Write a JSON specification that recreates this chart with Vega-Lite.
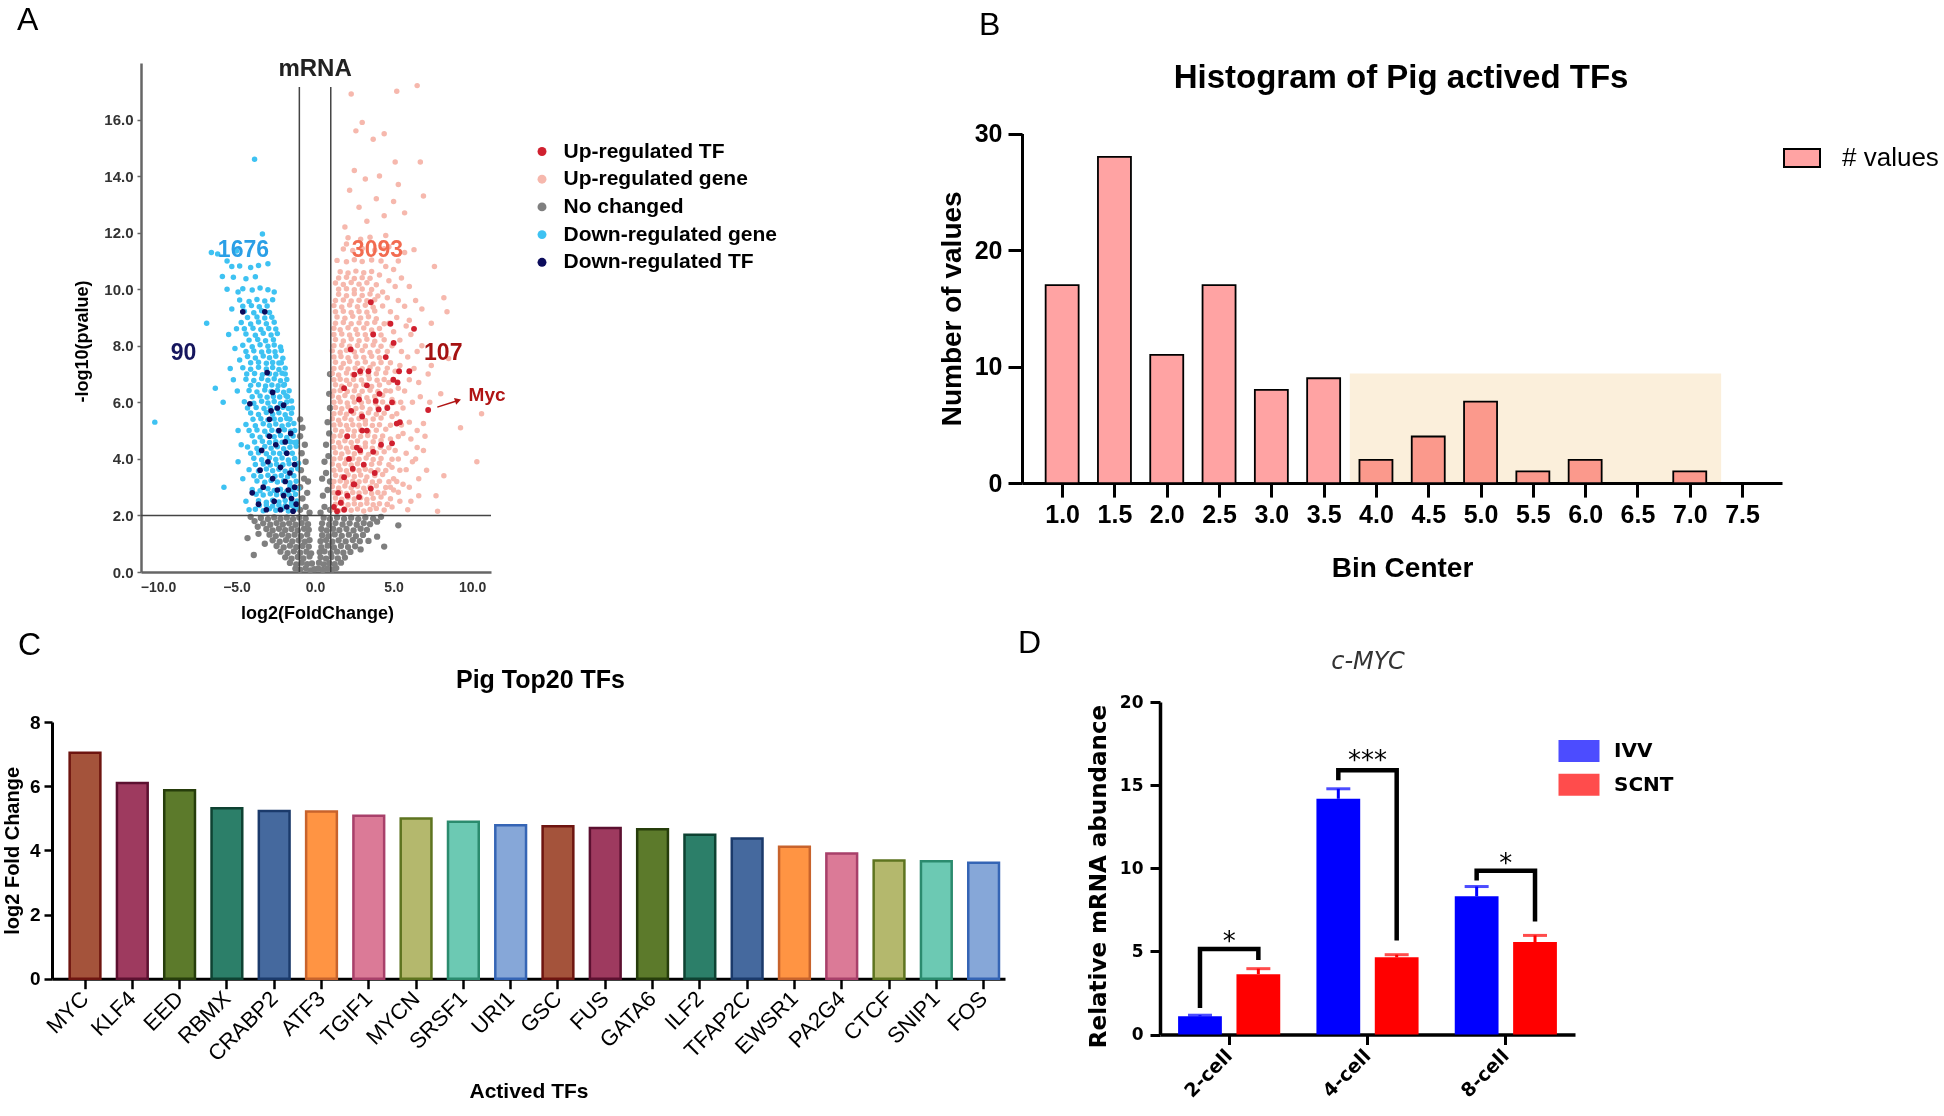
{
"$schema": "https://vega.github.io/schema/vega-lite/v6.json",
"background": "white",
"padding": {"left": 2, "top": 4, "right": 0, "bottom": 0},
"spacing": 5,
"resolve": {"scale": {"color": "independent", "fill": "independent", "stroke": "independent"}, "legend": {"color": "independent", "fill": "independent", "stroke": "independent"}},
"config": {
  "view": {"stroke": null},
  "font": "Liberation Sans",
  "axis": {"grid": false, "labelFont": "Liberation Sans", "titleFont": "Liberation Sans", "labelColor": "black", "titleColor": "black", "domainColor": "black", "tickColor": "black", "labelOverlap": false, "labelFlush": false},
  "legend": {"labelFont": "Liberation Sans", "labelColor": "black"},
  "title": {"anchor": "start", "frame": "group", "fontSize": 32, "fontWeight": "normal", "font": "Liberation Sans", "color": "black"}
},
"datasets": {
  "gr": [{"x":-1.25,"y":0.12},{"x":-0.95,"y":0.08},{"x":-0.6,"y":0.14},{"x":-0.3,"y":0.06},{"x":-0.05,"y":0.1},{"x":0.2,"y":0.13},{"x":0.5,"y":0.07},{"x":0.8,"y":0.12},{"x":1.1,"y":0.09},{"x":1.35,"y":0.14},
{"x":-1.6,"y":0.32},{"x":-1.2,"y":0.27},{"x":-0.85,"y":0.33},{"x":-0.5,"y":0.28},{"x":-0.2,"y":0.3},{"x":0.25,"y":0.33},{"x":0.55,"y":0.27},{"x":0.9,"y":0.31},{"x":1.25,"y":0.28},{"x":1.65,"y":0.33},
{"x":-1.9,"y":0.52},{"x":-1.5,"y":0.47},{"x":-1.1,"y":0.53},{"x":-0.75,"y":0.48},{"x":-0.35,"y":0.55},{"x":0.35,"y":0.52},{"x":0.7,"y":0.47},{"x":1.05,"y":0.53},{"x":1.45,"y":0.48},{"x":1.9,"y":0.51},
{"x":-2.2,"y":0.72},{"x":-1.75,"y":0.67},{"x":-1.35,"y":0.73},{"x":-0.95,"y":0.68},{"x":-0.55,"y":0.72},{"x":-0.25,"y":0.66},{"x":0.3,"y":0.7},{"x":0.6,"y":0.73},{"x":1.0,"y":0.67},{"x":1.4,"y":0.72},{"x":1.8,"y":0.68},{"x":2.25,"y":0.71},
{"x":-2.45,"y":0.92},{"x":-2.0,"y":0.87},{"x":-1.6,"y":0.93},{"x":-1.2,"y":0.88},{"x":-0.8,"y":0.92},{"x":-0.4,"y":0.9},{"x":0.4,"y":0.88},{"x":0.8,"y":0.93},{"x":1.2,"y":0.87},{"x":1.65,"y":0.92},{"x":2.1,"y":0.88},{"x":2.55,"y":0.91},
{"x":-2.7,"y":1.12},{"x":-2.25,"y":1.07},{"x":-1.85,"y":1.13},{"x":-1.45,"y":1.08},{"x":-1.05,"y":1.12},{"x":-0.65,"y":1.07},{"x":-0.35,"y":1.13},{"x":0.35,"y":1.09},{"x":0.7,"y":1.13},{"x":1.1,"y":1.07},{"x":1.5,"y":1.12},{"x":1.95,"y":1.08},{"x":2.4,"y":1.13},{"x":2.85,"y":1.09},
{"x":-2.9,"y":1.32},{"x":-2.5,"y":1.27},{"x":-2.1,"y":1.33},{"x":-1.7,"y":1.28},{"x":-1.3,"y":1.32},{"x":-0.9,"y":1.27},{"x":-0.5,"y":1.33},{"x":0.45,"y":1.3},{"x":0.85,"y":1.27},{"x":1.25,"y":1.33},{"x":1.7,"y":1.28},{"x":2.15,"y":1.32},{"x":2.6,"y":1.27},{"x":3.05,"y":1.31},
{"x":-3.1,"y":1.52},{"x":-2.7,"y":1.47},{"x":-2.3,"y":1.53},{"x":-1.9,"y":1.48},{"x":-1.5,"y":1.52},{"x":-1.1,"y":1.47},{"x":-0.7,"y":1.53},{"x":-0.4,"y":1.49},{"x":0.4,"y":1.52},{"x":0.75,"y":1.47},{"x":1.15,"y":1.53},{"x":1.55,"y":1.48},{"x":2.0,"y":1.52},{"x":2.45,"y":1.47},{"x":2.9,"y":1.53},{"x":3.3,"y":1.49},
{"x":-3.3,"y":1.72},{"x":-2.85,"y":1.67},{"x":-2.45,"y":1.73},{"x":-2.05,"y":1.68},{"x":-1.65,"y":1.72},{"x":-1.25,"y":1.67},{"x":-0.85,"y":1.73},{"x":-0.45,"y":1.69},{"x":0.45,"y":1.72},{"x":0.9,"y":1.67},{"x":1.3,"y":1.73},{"x":1.75,"y":1.68},{"x":2.2,"y":1.72},{"x":2.65,"y":1.67},{"x":3.1,"y":1.73},{"x":3.5,"y":1.69},
{"x":-3.45,"y":1.91},{"x":-3.0,"y":1.87},{"x":-2.6,"y":1.93},{"x":-2.2,"y":1.88},{"x":-1.8,"y":1.92},{"x":-1.4,"y":1.87},{"x":-1.0,"y":1.93},{"x":-0.6,"y":1.89},{"x":0.55,"y":1.92},{"x":0.95,"y":1.87},{"x":1.4,"y":1.93},{"x":1.85,"y":1.88},{"x":2.3,"y":1.92},{"x":2.75,"y":1.87},{"x":3.2,"y":1.93},{"x":3.7,"y":1.89},
{"x":-3.85,"y":1.8},{"x":-4.1,"y":1.95},{"x":3.95,"y":1.78},{"x":4.2,"y":1.95},{"x":-3.6,"y":1.35},{"x":3.4,"y":1.1},{"x":-3.2,"y":1.0},{"x":2.9,"y":0.8},
{"x":-0.95,"y":2.2},{"x":-0.6,"y":2.3},{"x":-0.35,"y":2.1},{"x":-0.8,"y":2.6},{"x":-0.5,"y":2.8},{"x":-0.95,"y":3.0},{"x":-0.7,"y":3.3},{"x":-0.45,"y":3.2},{"x":-0.9,"y":3.6},{"x":-0.6,"y":3.9},{"x":-0.85,"y":4.2},{"x":-0.65,"y":4.5},{"x":-0.95,"y":4.8},{"x":-0.8,"y":5.1},{"x":-0.95,"y":5.4},
{"x":0.35,"y":2.1},{"x":0.6,"y":2.3},{"x":0.95,"y":2.2},{"x":0.5,"y":2.7},{"x":0.8,"y":2.9},{"x":0.45,"y":3.3},{"x":0.7,"y":3.5},{"x":0.95,"y":3.2},{"x":0.6,"y":3.9},{"x":0.85,"y":4.1},{"x":0.7,"y":4.5},{"x":0.9,"y":4.9},{"x":0.8,"y":5.3},{"x":0.95,"y":5.8},{"x":0.9,"y":6.3},{"x":0.95,"y":7.0},
{"x":-3.65,"y":1.6},{"x":-4.3,"y":1.2},{"x":-3.9,"y":0.6},{"x":5.3,"y":1.65},{"x":4.4,"y":0.9},{"x":3.95,"y":1.25}],
  "bl": [{"x":-3.8,"y":2.22},{"x":-3.3,"y":2.17},{"x":-2.9,"y":2.24},{"x":-2.5,"y":2.18},{"x":-2.1,"y":2.23},{"x":-1.7,"y":2.16},{"x":-1.3,"y":2.21},
{"x":-3.6,"y":2.52},{"x":-3.1,"y":2.47},{"x":-2.7,"y":2.54},{"x":-2.3,"y":2.48},{"x":-1.9,"y":2.53},{"x":-1.5,"y":2.46},{"x":-1.15,"y":2.51},
{"x":-4.0,"y":2.92},{"x":-3.5,"y":2.87},{"x":-3.0,"y":2.94},{"x":-2.6,"y":2.88},{"x":-2.2,"y":2.93},{"x":-1.8,"y":2.86},{"x":-1.4,"y":2.91},{"x":-1.05,"y":2.95},
{"x":-3.7,"y":3.22},{"x":-3.2,"y":3.17},{"x":-2.8,"y":3.24},{"x":-2.4,"y":3.18},{"x":-2.0,"y":3.23},{"x":-1.6,"y":3.16},{"x":-1.2,"y":3.21},
{"x":-4.2,"y":3.62},{"x":-3.6,"y":3.57},{"x":-3.1,"y":3.64},{"x":-2.7,"y":3.58},{"x":-2.3,"y":3.63},{"x":-1.9,"y":3.56},{"x":-1.5,"y":3.61},{"x":-1.1,"y":3.65},
{"x":-3.9,"y":4.02},{"x":-3.4,"y":3.97},{"x":-2.9,"y":4.04},{"x":-2.5,"y":3.98},{"x":-2.1,"y":4.03},{"x":-1.7,"y":3.96},{"x":-1.3,"y":4.01},
{"x":-4.3,"y":4.42},{"x":-3.7,"y":4.37},{"x":-3.2,"y":4.44},{"x":-2.8,"y":4.38},{"x":-2.4,"y":4.43},{"x":-2.0,"y":4.36},{"x":-1.6,"y":4.41},{"x":-1.2,"y":4.45},
{"x":-4.0,"y":4.82},{"x":-3.5,"y":4.77},{"x":-3.0,"y":4.84},{"x":-2.6,"y":4.78},{"x":-2.2,"y":4.83},{"x":-1.8,"y":4.76},{"x":-1.4,"y":4.81},
{"x":-4.4,"y":5.22},{"x":-3.8,"y":5.17},{"x":-3.3,"y":5.24},{"x":-2.9,"y":5.18},{"x":-2.5,"y":5.23},{"x":-2.1,"y":5.16},{"x":-1.7,"y":5.21},{"x":-1.35,"y":5.25},
{"x":-4.1,"y":5.62},{"x":-3.6,"y":5.57},{"x":-3.1,"y":5.64},{"x":-2.7,"y":5.58},{"x":-2.3,"y":5.63},{"x":-1.9,"y":5.56},{"x":-1.5,"y":5.61},
{"x":-4.5,"y":6.02},{"x":-3.9,"y":5.97},{"x":-3.4,"y":6.04},{"x":-3.0,"y":5.98},{"x":-2.6,"y":6.03},{"x":-2.2,"y":5.96},{"x":-1.8,"y":6.01},{"x":-1.5,"y":6.05},
{"x":-4.2,"y":6.42},{"x":-3.7,"y":6.37},{"x":-3.2,"y":6.44},{"x":-2.8,"y":6.38},{"x":-2.4,"y":6.43},{"x":-2.0,"y":6.36},{"x":-1.65,"y":6.41},
{"x":-4.4,"y":6.82},{"x":-3.9,"y":6.77},{"x":-3.4,"y":6.84},{"x":-3.0,"y":6.78},{"x":-2.6,"y":6.83},{"x":-2.2,"y":6.76},{"x":-1.8,"y":6.81},
{"x":-4.6,"y":7.22},{"x":-4.1,"y":7.17},{"x":-3.6,"y":7.24},{"x":-3.1,"y":7.18},{"x":-2.7,"y":7.23},{"x":-2.3,"y":7.16},{"x":-1.9,"y":7.21},
{"x":-4.3,"y":7.62},{"x":-3.8,"y":7.57},{"x":-3.3,"y":7.64},{"x":-2.9,"y":7.58},{"x":-2.5,"y":7.63},{"x":-2.05,"y":7.56},
{"x":-4.6,"y":8.02},{"x":-4.0,"y":7.97},{"x":-3.5,"y":8.04},{"x":-3.0,"y":7.98},{"x":-2.6,"y":8.03},{"x":-2.2,"y":7.96},
{"x":-4.4,"y":8.42},{"x":-3.8,"y":8.37},{"x":-3.3,"y":8.44},{"x":-2.8,"y":8.38},{"x":-2.4,"y":8.43},
{"x":-4.7,"y":8.82},{"x":-4.1,"y":8.77},{"x":-3.6,"y":8.84},{"x":-3.1,"y":8.78},{"x":-2.6,"y":8.83},
{"x":-4.5,"y":9.22},{"x":-3.9,"y":9.17},{"x":-3.4,"y":9.24},{"x":-2.9,"y":9.18},
{"x":-4.8,"y":9.62},{"x":-4.2,"y":9.57},{"x":-3.7,"y":9.64},{"x":-3.2,"y":9.58},{"x":-2.7,"y":9.63},
{"x":-4.6,"y":10.02},{"x":-4.0,"y":9.97},{"x":-3.5,"y":10.04},{"x":-3.0,"y":9.98},
{"x":-5.2,"y":10.42},{"x":-4.4,"y":10.37},{"x":-3.8,"y":10.44},
{"x":-4.8,"y":10.82},{"x":-4.1,"y":10.77},{"x":-3.6,"y":10.84},
{"x":-6.6,"y":11.3},{"x":-6.2,"y":11.25},{"x":-5.0,"y":11.35},
{"x":-10.2,"y":5.3},{"x":-6.9,"y":8.8},{"x":-6.35,"y":6.5},{"x":-5.8,"y":3.0},{"x":-5.85,"y":6.0},{"x":-5.9,"y":10.45},{"x":-3.85,"y":14.6},{"x":-3.35,"y":11.95},{"x":-5.6,"y":10.0},{"x":-5.3,"y":9.3},{"x":-5.1,"y":7.9},{"x":-4.9,"y":5.0},{"x":-4.9,"y":3.9},{"x":-5.5,"y":8.4},{"x":-3.0,"y":10.9},{"x":-2.6,"y":9.9},{"x":-5.2,"y":6.8},
{"x":-5.0,"y":8.6},{"x":-4.9,"y":9.9},{"x":-5.3,"y":10.8},{"x":-5.6,"y":11.0},{"x":-4.95,"y":6.4},{"x":-4.8,"y":7.5},{"x":-5.4,"y":7.2},{"x":-4.7,"y":4.5},{"x":-4.6,"y":3.3},{"x":-4.4,"y":2.5},{"x":-4.2,"y":2.2},
{"x":-1.1,"y":2.3},{"x":-1.45,"y":2.35},{"x":-1.25,"y":2.75},{"x":-1.6,"y":3.05},{"x":-1.35,"y":3.4},{"x":-1.05,"y":3.85},{"x":-1.45,"y":4.2},{"x":-1.15,"y":4.6},{"x":-1.55,"y":4.6},{"x":-1.3,"y":5.0},{"x":-1.6,"y":5.4},{"x":-1.45,"y":5.8},{"x":-1.75,"y":6.2},{"x":-2.0,"y":6.6},{"x":-1.9,"y":7.0},{"x":-2.15,"y":7.4},
{"x":-3.55,"y":2.35},{"x":-3.1,"y":2.37},{"x":-2.7,"y":2.33},{"x":-2.3,"y":2.36},{"x":-1.9,"y":2.34},{"x":-1.5,"y":2.38},
{"x":-3.75,"y":2.75},{"x":-3.3,"y":2.72},{"x":-2.85,"y":2.77},{"x":-2.45,"y":2.73},{"x":-2.05,"y":2.76},{"x":-1.65,"y":2.72},
{"x":-3.9,"y":3.4},{"x":-3.45,"y":3.38},{"x":-3.0,"y":3.42},{"x":-2.55,"y":3.39},{"x":-2.15,"y":3.41},{"x":-1.75,"y":3.37},
{"x":-3.8,"y":3.8},{"x":-3.3,"y":3.82},{"x":-2.85,"y":3.78},{"x":-2.45,"y":3.81},{"x":-2.05,"y":3.79},{"x":-1.65,"y":3.83},{"x":-1.25,"y":3.78},
{"x":-4.1,"y":4.2},{"x":-3.6,"y":4.22},{"x":-3.1,"y":4.18},{"x":-2.65,"y":4.21},{"x":-2.25,"y":4.19},{"x":-1.85,"y":4.23},
{"x":-3.85,"y":4.6},{"x":-3.35,"y":4.62},{"x":-2.9,"y":4.58},{"x":-2.5,"y":4.61},{"x":-2.1,"y":4.59},{"x":-1.7,"y":4.63},{"x":-1.3,"y":4.58},
{"x":-4.2,"y":5.0},{"x":-3.7,"y":5.02},{"x":-3.2,"y":4.98},{"x":-2.75,"y":5.01},{"x":-2.35,"y":4.99},{"x":-1.95,"y":5.03},{"x":-1.55,"y":4.98},
{"x":-3.95,"y":5.4},{"x":-3.45,"y":5.42},{"x":-3.0,"y":5.38},{"x":-2.6,"y":5.41},{"x":-2.2,"y":5.39},{"x":-1.8,"y":5.43},
{"x":-4.3,"y":5.8},{"x":-3.75,"y":5.82},{"x":-3.25,"y":5.78},{"x":-2.85,"y":5.81},{"x":-2.45,"y":5.79},{"x":-2.05,"y":5.83},{"x":-1.7,"y":5.78},
{"x":-4.0,"y":6.2},{"x":-3.5,"y":6.22},{"x":-3.05,"y":6.18},{"x":-2.65,"y":6.21},{"x":-2.25,"y":6.19},{"x":-1.85,"y":6.23},
{"x":-4.1,"y":6.6},{"x":-3.6,"y":6.62},{"x":-3.15,"y":6.58},{"x":-2.75,"y":6.61},{"x":-2.35,"y":6.59},{"x":-1.95,"y":6.63},
{"x":-4.35,"y":7.0},{"x":-3.85,"y":7.02},{"x":-3.35,"y":6.98},{"x":-2.9,"y":7.01},{"x":-2.5,"y":6.99},{"x":-2.1,"y":7.03},
{"x":-4.1,"y":7.4},{"x":-3.6,"y":7.42},{"x":-3.1,"y":7.38},{"x":-2.7,"y":7.41},{"x":-2.3,"y":7.39},
{"x":-4.4,"y":7.8},{"x":-3.9,"y":7.82},{"x":-3.4,"y":7.78},{"x":-2.95,"y":7.81},{"x":-2.55,"y":7.79},{"x":-2.15,"y":7.83},
{"x":-4.2,"y":8.2},{"x":-3.65,"y":8.22},{"x":-3.15,"y":8.18},{"x":-2.65,"y":8.21},
{"x":-4.5,"y":8.6},{"x":-3.95,"y":8.62},{"x":-3.45,"y":8.58},{"x":-2.95,"y":8.61},{"x":-2.5,"y":8.59},
{"x":-4.3,"y":9.0},{"x":-3.7,"y":9.02},{"x":-3.2,"y":8.98},{"x":-2.75,"y":9.01},
{"x":-4.6,"y":9.4},{"x":-4.05,"y":9.42},{"x":-3.55,"y":9.38},{"x":-3.05,"y":9.41}],
  "pk": [{"x":1.1,"y":2.22},{"x":1.5,"y":2.17},{"x":1.9,"y":2.24},{"x":2.3,"y":2.18},{"x":2.7,"y":2.23},{"x":3.1,"y":2.16},{"x":3.5,"y":2.21},{"x":3.9,"y":2.25},{"x":4.4,"y":2.19},
{"x":1.3,"y":2.62},{"x":1.7,"y":2.57},{"x":2.1,"y":2.64},{"x":2.5,"y":2.58},{"x":2.9,"y":2.63},{"x":3.3,"y":2.56},{"x":3.7,"y":2.61},{"x":4.2,"y":2.65},{"x":4.8,"y":2.59},
{"x":1.1,"y":3.02},{"x":1.5,"y":2.97},{"x":1.9,"y":3.04},{"x":2.3,"y":2.98},{"x":2.7,"y":3.03},{"x":3.1,"y":2.96},{"x":3.5,"y":3.01},{"x":3.9,"y":3.05},{"x":4.5,"y":2.99},
{"x":1.3,"y":3.42},{"x":1.7,"y":3.37},{"x":2.1,"y":3.44},{"x":2.5,"y":3.38},{"x":2.9,"y":3.43},{"x":3.3,"y":3.36},{"x":3.8,"y":3.41},{"x":4.3,"y":3.45},
{"x":1.1,"y":3.82},{"x":1.5,"y":3.77},{"x":1.9,"y":3.84},{"x":2.3,"y":3.78},{"x":2.7,"y":3.83},{"x":3.1,"y":3.76},{"x":3.6,"y":3.81},{"x":4.1,"y":3.85},{"x":4.7,"y":3.79},
{"x":1.3,"y":4.22},{"x":1.7,"y":4.17},{"x":2.1,"y":4.24},{"x":2.5,"y":4.18},{"x":2.9,"y":4.23},{"x":3.4,"y":4.16},{"x":3.9,"y":4.21},{"x":4.4,"y":4.25},
{"x":1.1,"y":4.62},{"x":1.5,"y":4.57},{"x":1.9,"y":4.64},{"x":2.3,"y":4.58},{"x":2.7,"y":4.63},{"x":3.2,"y":4.56},{"x":3.7,"y":4.61},{"x":4.2,"y":4.65},
{"x":1.3,"y":5.02},{"x":1.7,"y":4.97},{"x":2.1,"y":5.04},{"x":2.5,"y":4.98},{"x":2.9,"y":5.03},{"x":3.4,"y":4.96},{"x":3.9,"y":5.01},{"x":4.5,"y":5.05},
{"x":1.1,"y":5.42},{"x":1.5,"y":5.37},{"x":1.9,"y":5.44},{"x":2.3,"y":5.38},{"x":2.8,"y":5.43},{"x":3.2,"y":5.36},{"x":3.7,"y":5.41},{"x":4.2,"y":5.45},
{"x":1.3,"y":5.82},{"x":1.7,"y":5.77},{"x":2.1,"y":5.84},{"x":2.6,"y":5.78},{"x":3.0,"y":5.83},{"x":3.5,"y":5.76},{"x":4.0,"y":5.81},{"x":4.6,"y":5.85},
{"x":1.1,"y":6.22},{"x":1.5,"y":6.17},{"x":1.9,"y":6.24},{"x":2.4,"y":6.18},{"x":2.8,"y":6.23},{"x":3.3,"y":6.16},{"x":3.8,"y":6.21},{"x":4.3,"y":6.25},
{"x":1.3,"y":6.62},{"x":1.7,"y":6.57},{"x":2.2,"y":6.64},{"x":2.6,"y":6.58},{"x":3.1,"y":6.63},{"x":3.6,"y":6.56},{"x":4.1,"y":6.61},
{"x":1.1,"y":7.02},{"x":1.5,"y":6.97},{"x":2.0,"y":7.04},{"x":2.4,"y":6.98},{"x":2.9,"y":7.03},{"x":3.4,"y":6.96},{"x":3.9,"y":7.01},{"x":4.5,"y":7.05},
{"x":1.3,"y":7.42},{"x":1.8,"y":7.37},{"x":2.2,"y":7.44},{"x":2.7,"y":7.38},{"x":3.2,"y":7.43},{"x":3.7,"y":7.36},{"x":4.2,"y":7.41},
{"x":1.1,"y":7.82},{"x":1.6,"y":7.77},{"x":2.0,"y":7.84},{"x":2.5,"y":7.78},{"x":3.0,"y":7.83},{"x":3.5,"y":7.76},{"x":4.0,"y":7.81},
{"x":1.3,"y":8.22},{"x":1.8,"y":8.17},{"x":2.3,"y":8.24},{"x":2.8,"y":8.18},{"x":3.3,"y":8.23},{"x":3.8,"y":8.16},{"x":4.4,"y":8.21},
{"x":1.2,"y":8.62},{"x":1.6,"y":8.57},{"x":2.1,"y":8.64},{"x":2.6,"y":8.58},{"x":3.1,"y":8.63},{"x":3.6,"y":8.56},{"x":4.1,"y":8.61},
{"x":1.4,"y":9.02},{"x":1.9,"y":8.97},{"x":2.4,"y":9.04},{"x":2.9,"y":8.98},{"x":3.4,"y":9.03},{"x":3.9,"y":8.96},
{"x":1.2,"y":9.42},{"x":1.7,"y":9.37},{"x":2.2,"y":9.44},{"x":2.7,"y":9.38},{"x":3.2,"y":9.43},{"x":3.7,"y":9.36},{"x":4.3,"y":9.41},
{"x":1.5,"y":9.82},{"x":2.0,"y":9.77},{"x":2.5,"y":9.84},{"x":3.0,"y":9.78},{"x":3.5,"y":9.83},{"x":4.0,"y":9.76},
{"x":1.3,"y":10.22},{"x":1.8,"y":10.17},{"x":2.3,"y":10.24},{"x":2.8,"y":10.18},{"x":3.3,"y":10.23},{"x":3.9,"y":10.16},
{"x":1.6,"y":10.62},{"x":2.1,"y":10.57},{"x":2.6,"y":10.64},{"x":3.1,"y":10.58},{"x":3.6,"y":10.63},
{"x":1.4,"y":11.02},{"x":2.0,"y":10.97},{"x":2.5,"y":11.04},{"x":3.0,"y":10.98},{"x":3.6,"y":11.03},
{"x":1.8,"y":11.42},{"x":2.4,"y":11.37},{"x":3.0,"y":11.44},{"x":3.8,"y":11.38},{"x":4.4,"y":11.43},
{"x":2.1,"y":11.82},{"x":2.9,"y":11.77},{"x":3.5,"y":11.84},
{"x":6.5,"y":17.2},{"x":5.2,"y":17.0},{"x":2.3,"y":16.9},{"x":3.0,"y":15.9},{"x":2.6,"y":15.6},{"x":4.4,"y":15.5},{"x":3.7,"y":15.3},{"x":6.7,"y":14.5},{"x":5.1,"y":14.5},{"x":2.5,"y":14.2},{"x":4.1,"y":14.0},{"x":5.3,"y":13.7},{"x":2.2,"y":13.5},{"x":6.9,"y":13.3},{"x":5.0,"y":13.1},{"x":5.7,"y":12.7},{"x":3.3,"y":12.4},{"x":1.9,"y":12.2},{"x":4.5,"y":11.9},{"x":6.3,"y":11.4},{"x":7.6,"y":10.8},{"x":8.2,"y":9.7},{"x":8.4,"y":9.2},{"x":7.4,"y":8.8},{"x":8.5,"y":7.55},{"x":8.0,"y":6.3},{"x":9.26,"y":5.1},{"x":10.6,"y":5.6},{"x":10.3,"y":3.9},{"x":8.2,"y":3.4},{"x":7.7,"y":2.7},{"x":7.8,"y":2.15},{"x":6.5,"y":4.4},{"x":6.9,"y":5.25},{"x":7.4,"y":7.3},{"x":6.6,"y":6.7},{"x":5.45,"y":6.0},{"x":5.8,"y":8.7},{"x":5.2,"y":3.2},{"x":6.1,"y":2.5},{"x":4.6,"y":2.4},{"x":6.8,"y":8.0},{"x":6.0,"y":10.1},{"x":5.0,"y":10.7},{"x":5.7,"y":11.3},
{"x":5.0,"y":2.9},{"x":5.4,"y":3.6},{"x":5.1,"y":4.3},{"x":5.6,"y":4.9},{"x":5.2,"y":5.6},{"x":5.7,"y":6.4},{"x":5.1,"y":7.1},{"x":5.5,"y":7.8},{"x":5.0,"y":8.5},{"x":4.8,"y":9.2},{"x":5.3,"y":9.6},{"x":6.2,"y":3.9},{"x":6.0,"y":5.3},{"x":6.3,"y":7.2},{"x":6.1,"y":8.4},{"x":4.7,"y":10.3},{"x":5.9,"y":2.2},{"x":6.6,"y":3.3},{"x":7.0,"y":4.8},{"x":7.3,"y":6.0},{"x":6.8,"y":9.3},{"x":4.4,"y":12.6},{"x":3.9,"y":13.2},{"x":3.2,"y":13.9},{"x":2.8,"y":12.9},{"x":2.0,"y":11.6},
{"x":4.9,"y":2.3},{"x":5.4,"y":2.5},{"x":5.0,"y":3.3},{"x":5.6,"y":3.1},{"x":6.0,"y":3.0},{"x":4.9,"y":3.7},{"x":5.3,"y":4.0},{"x":5.8,"y":4.2},{"x":6.4,"y":4.0},{"x":4.8,"y":4.7},{"x":5.5,"y":5.2},{"x":6.1,"y":4.7},{"x":6.5,"y":5.0},{"x":4.9,"y":5.5},{"x":5.6,"y":5.8},{"x":6.2,"y":6.0},{"x":6.7,"y":6.2},{"x":4.8,"y":6.4},{"x":5.3,"y":6.5},{"x":6.0,"y":6.8},{"x":4.8,"y":7.4},{"x":5.4,"y":7.3},{"x":5.9,"y":7.6},{"x":6.5,"y":7.8},{"x":4.9,"y":8.0},{"x":5.4,"y":8.2},{"x":6.0,"y":8.9},{"x":4.7,"y":8.8},{"x":5.2,"y":9.0},{"x":5.7,"y":9.4},{"x":4.6,"y":9.7},{"x":5.1,"y":10.1},{"x":5.5,"y":10.4},{"x":4.5,"y":10.8},{"x":5.3,"y":11.0},{"x":4.2,"y":11.0},{"x":4.7,"y":11.5},{"x":6.6,"y":2.7},{"x":7.1,"y":3.6},{"x":6.9,"y":4.3},{"x":7.2,"y":7.0},{"x":6.4,"y":9.6},{"x":4.1,"y":10.5},{"x":4.3,"y":9.9},{"x":4.6,"y":7.8},{"x":4.7,"y":6.7},{"x":4.9,"y":6.1},{"x":4.8,"y":3.0},
{"x":1.3,"y":2.4},{"x":1.7,"y":2.42},{"x":2.1,"y":2.38},{"x":2.5,"y":2.41},{"x":2.9,"y":2.39},{"x":3.3,"y":2.43},{"x":3.7,"y":2.38},{"x":4.1,"y":2.41},{"x":4.6,"y":2.39},
{"x":1.2,"y":2.8},{"x":1.6,"y":2.82},{"x":2.0,"y":2.78},{"x":2.4,"y":2.81},{"x":2.8,"y":2.79},{"x":3.2,"y":2.83},{"x":3.6,"y":2.78},{"x":4.0,"y":2.81},{"x":4.4,"y":2.79},{"x":5.3,"y":2.82},
{"x":1.2,"y":3.2},{"x":1.6,"y":3.22},{"x":2.0,"y":3.18},{"x":2.4,"y":3.21},{"x":2.8,"y":3.19},{"x":3.2,"y":3.23},{"x":3.65,"y":3.18},{"x":4.1,"y":3.21},{"x":4.7,"y":3.19},
{"x":1.2,"y":3.6},{"x":1.6,"y":3.62},{"x":2.0,"y":3.58},{"x":2.4,"y":3.61},{"x":2.8,"y":3.59},{"x":3.2,"y":3.63},{"x":3.55,"y":3.58},{"x":4.0,"y":3.61},{"x":4.5,"y":3.59},{"x":5.8,"y":3.62},
{"x":1.2,"y":4.0},{"x":1.6,"y":4.02},{"x":2.0,"y":3.98},{"x":2.4,"y":4.01},{"x":2.8,"y":3.99},{"x":3.25,"y":4.03},{"x":3.7,"y":3.98},{"x":4.2,"y":4.01},{"x":4.9,"y":3.99},
{"x":1.2,"y":4.4},{"x":1.6,"y":4.42},{"x":2.0,"y":4.38},{"x":2.4,"y":4.41},{"x":2.8,"y":4.39},{"x":3.2,"y":4.43},{"x":3.65,"y":4.38},{"x":4.15,"y":4.41},{"x":4.7,"y":4.39},
{"x":1.2,"y":4.8},{"x":1.6,"y":4.82},{"x":2.0,"y":4.78},{"x":2.45,"y":4.81},{"x":2.9,"y":4.79},{"x":3.35,"y":4.83},{"x":3.8,"y":4.78},{"x":4.3,"y":4.81},{"x":5.3,"y":4.79},
{"x":1.2,"y":5.2},{"x":1.6,"y":5.22},{"x":2.0,"y":5.18},{"x":2.4,"y":5.21},{"x":2.8,"y":5.19},{"x":3.2,"y":5.23},{"x":3.65,"y":5.18},{"x":4.1,"y":5.21},{"x":4.8,"y":5.19},
{"x":1.2,"y":5.6},{"x":1.6,"y":5.62},{"x":2.0,"y":5.58},{"x":2.45,"y":5.61},{"x":2.95,"y":5.59},{"x":3.4,"y":5.63},{"x":3.9,"y":5.58},{"x":4.4,"y":5.61},
{"x":1.2,"y":6.0},{"x":1.6,"y":6.02},{"x":2.05,"y":5.98},{"x":2.5,"y":6.01},{"x":2.95,"y":5.99},{"x":3.4,"y":6.03},{"x":3.85,"y":5.98},{"x":4.3,"y":6.01},{"x":5.0,"y":5.99},
{"x":1.2,"y":6.4},{"x":1.6,"y":6.42},{"x":2.05,"y":6.38},{"x":2.5,"y":6.41},{"x":3.0,"y":6.39},{"x":3.5,"y":6.43},{"x":4.0,"y":6.38},{"x":4.5,"y":6.41},
{"x":1.2,"y":6.8},{"x":1.6,"y":6.82},{"x":2.0,"y":6.78},{"x":2.45,"y":6.81},{"x":2.95,"y":6.79},{"x":3.45,"y":6.83},{"x":3.95,"y":6.78},{"x":4.4,"y":6.81},
{"x":1.2,"y":7.2},{"x":1.65,"y":7.22},{"x":2.1,"y":7.18},{"x":2.55,"y":7.21},{"x":3.0,"y":7.19},{"x":3.5,"y":7.23},{"x":4.0,"y":7.18},{"x":4.6,"y":7.21},
{"x":1.2,"y":7.6},{"x":1.65,"y":7.62},{"x":2.1,"y":7.58},{"x":2.6,"y":7.61},{"x":3.1,"y":7.59},{"x":3.6,"y":7.63},{"x":4.1,"y":7.58},
{"x":1.2,"y":8.0},{"x":1.7,"y":8.02},{"x":2.2,"y":7.98},{"x":2.7,"y":8.01},{"x":3.2,"y":7.99},{"x":3.7,"y":8.03},{"x":4.2,"y":7.98},
{"x":1.2,"y":8.4},{"x":1.7,"y":8.42},{"x":2.2,"y":8.38},{"x":2.7,"y":8.41},{"x":3.2,"y":8.39},{"x":3.7,"y":8.43},{"x":4.2,"y":8.38},
{"x":1.3,"y":8.8},{"x":1.8,"y":8.82},{"x":2.3,"y":8.78},{"x":2.8,"y":8.81},{"x":3.3,"y":8.79},{"x":3.8,"y":8.83},{"x":4.4,"y":8.78},
{"x":1.3,"y":9.2},{"x":1.8,"y":9.22},{"x":2.3,"y":9.18},{"x":2.8,"y":9.21},{"x":3.3,"y":9.19},{"x":3.8,"y":9.23},
{"x":1.3,"y":9.6},{"x":1.8,"y":9.62},{"x":2.3,"y":9.58},{"x":2.8,"y":9.61},{"x":3.3,"y":9.59},{"x":3.8,"y":9.63},
{"x":1.5,"y":10.0},{"x":2.0,"y":10.02},{"x":2.5,"y":9.98},{"x":3.0,"y":10.01},{"x":3.6,"y":9.99},
{"x":1.5,"y":10.4},{"x":2.0,"y":10.42},{"x":2.5,"y":10.38},{"x":3.0,"y":10.41},{"x":3.5,"y":10.39}],
  "nv": [{"x":-4.6,"y":9.2},{"x":-3.2,"y":9.2},{"x":-3.05,"y":7.05},{"x":-2.7,"y":6.35},{"x":-4.15,"y":5.95},{"x":-2.4,"y":5.8},{"x":-2.8,"y":5.7},{"x":-2.0,"y":5.9},{"x":-2.9,"y":5.4},{"x":-2.3,"y":5.0},{"x":-1.9,"y":4.6},{"x":-1.55,"y":4.9},{"x":-2.5,"y":4.5},{"x":-1.8,"y":4.2},{"x":-3.0,"y":3.9},{"x":-2.2,"y":3.7},{"x":-1.6,"y":3.5},{"x":-2.7,"y":3.3},{"x":-1.9,"y":3.2},{"x":-1.3,"y":3.0},{"x":-2.4,"y":2.9},{"x":-3.3,"y":3.0},{"x":-2.0,"y":2.7},{"x":-1.5,"y":2.6},{"x":-1.2,"y":2.4},{"x":-1.8,"y":2.3},{"x":-2.6,"y":2.5},{"x":-3.6,"y":2.4},{"x":-3.1,"y":2.2},{"x":-1.4,"y":2.15},{"x":-2.2,"y":2.2},{"x":-1.7,"y":2.9},{"x":-3.5,"y":3.6},{"x":-4.0,"y":2.8},{"x":-2.9,"y":4.8},{"x":-3.4,"y":4.3},{"x":-1.3,"y":3.8}],
  "rd": [{"x":3.55,"y":9.54},{"x":4.8,"y":8.78},{"x":6.3,"y":8.6},{"x":5.0,"y":8.1},{"x":4.5,"y":7.6},{"x":2.27,"y":7.87},{"x":3.7,"y":8.4},{"x":2.87,"y":7.1},{"x":3.4,"y":7.1},{"x":5.35,"y":7.1},{"x":6.0,"y":7.1},{"x":2.5,"y":6.98},{"x":4.98,"y":6.8},{"x":5.25,"y":6.7},{"x":3.3,"y":6.6},{"x":1.85,"y":6.5},{"x":4.1,"y":6.3},{"x":2.8,"y":6.1},{"x":3.86,"y":6.05},{"x":4.9,"y":6.0},{"x":4.6,"y":5.8},{"x":4.05,"y":5.75},{"x":2.3,"y":5.7},{"x":3.0,"y":5.5},{"x":5.4,"y":5.3},{"x":5.2,"y":5.25},{"x":3.3,"y":5.0},{"x":2.05,"y":4.8},{"x":4.9,"y":4.55},{"x":2.66,"y":4.4},{"x":2.87,"y":4.3},{"x":3.7,"y":4.25},{"x":2.16,"y":4.0},{"x":3.1,"y":3.8},{"x":2.4,"y":3.65},{"x":3.8,"y":3.5},{"x":1.85,"y":3.35},{"x":2.5,"y":3.1},{"x":3.55,"y":2.95},{"x":1.47,"y":2.8},{"x":2.06,"y":2.7},{"x":2.8,"y":2.65},{"x":1.64,"y":2.45},{"x":1.2,"y":2.3},{"x":1.85,"y":2.2},{"x":1.4,"y":2.15},{"x":2.45,"y":3.1},{"x":3.0,"y":5.0},{"x":4.2,"y":4.5},{"x":7.2,"y":5.73}],
  "hist": [{"c":1.0,"n":17},{"c":1.5,"n":28},{"c":2.0,"n":11},{"c":2.5,"n":17},{"c":3.0,"n":8},{"c":3.5,"n":9},{"c":4.0,"n":2},{"c":4.5,"n":4},{"c":5.0,"n":7},{"c":5.5,"n":1},{"c":6.0,"n":2},{"c":7.0,"n":1}],
  "tfs": [{"tf":"MYC","v":7.04},{"tf":"KLF4","v":6.10},{"tf":"EED","v":5.87},{"tf":"RBMX","v":5.31},{"tf":"CRABP2","v":5.23},{"tf":"ATF3","v":5.21},{"tf":"TGIF1","v":5.08},{"tf":"MYCN","v":4.99},{"tf":"SRSF1","v":4.89},{"tf":"URI1","v":4.78},{"tf":"GSC","v":4.75},{"tf":"FUS","v":4.70},{"tf":"GATA6","v":4.66},{"tf":"ILF2","v":4.49},{"tf":"TFAP2C","v":4.37},{"tf":"EWSR1","v":4.11},{"tf":"PA2G4","v":3.90},{"tf":"CTCF","v":3.68},{"tf":"SNIP1","v":3.66},{"tf":"FOS","v":3.61}],
  "myc": [{"stage":"2-cell","grp":"IVV","m":1.10,"hi":1.16},{"stage":"2-cell","grp":"SCNT","m":3.63,"hi":3.96},{"stage":"4-cell","grp":"IVV","m":14.18,"hi":14.78},{"stage":"4-cell","grp":"SCNT","m":4.64,"hi":4.80},{"stage":"8-cell","grp":"IVV","m":8.31,"hi":8.90},{"stage":"8-cell","grp":"SCNT","m":5.56,"hi":5.96}],
  "br": [{"stage":"2-cell","grp":"IVV","y":1.6,"o":1},{"stage":"2-cell","grp":"IVV","y":5.15,"o":2},{"stage":"2-cell","grp":"SCNT","y":5.15,"o":3},{"stage":"2-cell","grp":"SCNT","y":4.48,"o":4},{"stage":"4-cell","grp":"IVV","y":15.3,"o":1},{"stage":"4-cell","grp":"IVV","y":15.9,"o":2},{"stage":"4-cell","grp":"SCNT","y":15.9,"o":3},{"stage":"4-cell","grp":"SCNT","y":5.66,"o":4},{"stage":"8-cell","grp":"IVV","y":9.26,"o":1},{"stage":"8-cell","grp":"IVV","y":9.85,"o":2},{"stage":"8-cell","grp":"SCNT","y":9.85,"o":3},{"stage":"8-cell","grp":"SCNT","y":6.79,"o":4}],
  "st": [{"stage":"2-cell","s":"*","y":5.95},{"stage":"4-cell","s":"***","y":16.8},{"stage":"8-cell","s":"*","y":10.6}]
},
"vconcat": [
 {"hconcat": [
  {"width": 439, "height": 509,
   "title": {"text": "A", "dx": -35, "offset": 19.5},
   "layer": [
    {"data": {"name": "gr"}, "mark": {"type": "circle", "size": 40, "opacity": 1},
     "encoding": {
      "x": {"field": "x", "type": "quantitative", "scale": {"domain": [-11.08, 11.2], "range": [89, 439], "nice": false, "zero": false},
            "axis": {"values": [-10, -5, 0, 5, 10], "format": ".1f", "domainColor": "#666", "domainWidth": 2.5, "ticks": false, "labelPadding": 8, "labelFontSize": 14, "labelFontWeight": "bold", "labelColor": "#333", "title": "log2(FoldChange)", "titleFontSize": 18, "titleFontWeight": "bold", "titlePadding": 10, "titleX": 265}},
      "y": {"field": "y", "type": "quantitative", "scale": {"domain": [0, 18], "nice": false, "zero": false},
            "axis": {"values": [0, 2, 4, 6, 8, 10, 12, 14, 16], "format": ".1f", "offset": -89, "domainColor": "#666", "domainWidth": 2.5, "tickSize": 4, "tickColor": "#666", "tickWidth": 1.5, "labelPadding": 4, "labelFontSize": 15, "labelFontWeight": "bold", "labelColor": "#333", "title": "-log10(pvalue)", "titleFontSize": 18, "titleFontWeight": "bold", "titlePadding": 12, "titleY": 278}},
      "color": {"datum": "No changed", "type": "nominal",
        "scale": {"domain": ["Up-regulated TF", "Up-regulated gene", "No changed", "Down-regulated gene", "Down-regulated TF"], "range": ["#D0202F", "#F6B8AD", "#7F7F7F", "#3EC2F2", "#0C0C5C"]},
        "legend": {"orient": "none", "legendX": 479.5, "legendY": 78, "title": null, "symbolType": "circle", "symbolSize": 80, "symbolStrokeWidth": 0, "labelFont": "Liberation Sans", "labelFontSize": 21, "labelFontWeight": "bold", "labelOffset": 11, "rowPadding": 5.7, "labelLimit": 400}}
     }},
    {"data": {"name": "bl"}, "mark": {"type": "circle", "size": 30, "opacity": 1},
     "encoding": {"x": {"field": "x", "type": "quantitative"}, "y": {"field": "y", "type": "quantitative"}, "color": {"datum": "Down-regulated gene", "type": "nominal"}}},
    {"data": {"name": "pk"}, "mark": {"type": "circle", "size": 30, "opacity": 1},
     "encoding": {"x": {"field": "x", "type": "quantitative"}, "y": {"field": "y", "type": "quantitative"}, "color": {"datum": "Up-regulated gene", "type": "nominal"}}},
    {"data": {"name": "nv"}, "mark": {"type": "circle", "size": 32, "opacity": 1},
     "encoding": {"x": {"field": "x", "type": "quantitative"}, "y": {"field": "y", "type": "quantitative"}, "color": {"datum": "Down-regulated TF", "type": "nominal"}}},
    {"data": {"name": "rd"}, "mark": {"type": "circle", "size": 34, "opacity": 1},
     "encoding": {"x": {"field": "x", "type": "quantitative"}, "y": {"field": "y", "type": "quantitative"}, "color": {"datum": "Up-regulated TF", "type": "nominal"}}},
    {"data": {"values": [{}]}, "mark": {"type": "rule", "color": "#444", "strokeWidth": 1.5},
     "encoding": {"x": {"datum": -1}, "y": {"datum": 0}, "y2": {"datum": 17.15}}},
    {"data": {"values": [{}]}, "mark": {"type": "rule", "color": "#444", "strokeWidth": 1.5},
     "encoding": {"x": {"datum": 1}, "y": {"datum": 0}, "y2": {"datum": 17.15}}},
    {"data": {"values": [{}]}, "mark": {"type": "rule", "color": "#444", "strokeWidth": 1.5},
     "encoding": {"x": {"datum": -11.08}, "x2": {"datum": 11.2}, "y": {"datum": 2}}},
    {"data": {"values": [{}]}, "mark": {"type": "text", "fontSize": 24, "fontWeight": "bold", "color": "#222", "baseline": "middle"},
     "encoding": {"x": {"datum": 0}, "y": {"datum": 17.8}, "text": {"value": "mRNA"}}},
    {"data": {"values": [{}]}, "mark": {"type": "text", "fontSize": 23, "fontWeight": "bold", "color": "#2A9FE6", "baseline": "middle"},
     "encoding": {"x": {"datum": -4.56}, "y": {"datum": 11.4}, "text": {"value": "1676"}}},
    {"data": {"values": [{}]}, "mark": {"type": "text", "fontSize": 23, "fontWeight": "bold", "color": "#F26B50", "baseline": "middle"},
     "encoding": {"x": {"datum": 3.97}, "y": {"datum": 11.4}, "text": {"value": "3093"}}},
    {"data": {"values": [{}]}, "mark": {"type": "text", "fontSize": 23, "fontWeight": "bold", "color": "#16165E", "baseline": "middle"},
     "encoding": {"x": {"datum": -8.37}, "y": {"datum": 7.73}, "text": {"value": "90"}}},
    {"data": {"values": [{}]}, "mark": {"type": "text", "fontSize": 23, "fontWeight": "bold", "color": "#A51212", "baseline": "middle"},
     "encoding": {"x": {"datum": 8.16}, "y": {"datum": 7.73}, "text": {"value": "107"}}},
    {"data": {"values": [{}]}, "mark": {"type": "text", "fontSize": 19, "fontWeight": "bold", "color": "#B01414", "baseline": "middle"},
     "encoding": {"x": {"datum": 10.95}, "y": {"datum": 6.26}, "text": {"value": "Myc"}}},
    {"data": {"values": [{}]}, "mark": {"type": "rule", "color": "#B01414", "strokeWidth": 1.5},
     "encoding": {"x": {"datum": 7.78}, "y": {"datum": 5.83}, "x2": {"datum": 9.0}, "y2": {"datum": 6.05}}},
    {"data": {"values": [{}]}, "mark": {"type": "point", "shape": "triangle-right", "filled": true, "size": 50, "angle": -18, "color": "#B01414", "opacity": 1},
     "encoding": {"x": {"datum": 9.1}, "y": {"datum": 6.07}}}
   ]},
  {"width": 760, "height": 420.1,
   "title": {"text": "B", "dx": -43, "offset": 19.5},
   "layer": [
    {"data": {"name": "hist"}, "mark": {"type": "bar", "orient": "vertical", "width": 33, "stroke": "black", "strokeWidth": 1.8},
     "encoding": {
      "x": {"field": "c", "type": "quantitative", "scale": {"domain": [0.664, 7.834], "nice": false, "zero": false},
            "axis": {"values": [1, 1.5, 2, 2.5, 3, 3.5, 4, 4.5, 5, 5.5, 6, 6.5, 7, 7.5], "format": ".1f", "domainWidth": 3, "tickSize": 14, "tickWidth": 3, "labelFontSize": 25, "labelFontWeight": "bold", "labelPadding": 5, "title": "Bin Center", "titleFontSize": 28, "titleFontWeight": "bold", "titlePadding": 27}},
      "y": {"field": "n", "type": "quantitative", "scale": {"domain": [0, 30], "range": [420.1, 70.6], "nice": false},
            "axis": {"values": [0, 10, 20, 30], "domainWidth": 3, "tickSize": 14, "tickWidth": 3, "labelFontSize": 25, "labelFontWeight": "bold", "labelPadding": 6, "title": "Number of values", "titleFontSize": 28, "titleFontWeight": "bold", "titlePadding": 8}},
      "color": {"datum": "# values", "type": "nominal", "scale": {"range": ["#FFA3A3"]},
        "legend": {"orient": "none", "legendX": 767, "legendY": 82, "title": null, "symbolType": "M-1.5,-0.75H1.5V0.75H-1.5Z", "symbolSize": 576, "symbolStrokeColor": "black", "symbolStrokeWidth": 2, "labelFont": "Liberation Sans", "labelFontSize": 26, "labelOffset": 27}}
     }},
    {"data": {"values": [{}]}, "mark": {"type": "rect", "color": "#FBEFDB", "blend": "multiply"},
     "encoding": {"x": {"datum": 3.75}, "x2": {"datum": 7.3}, "y": {"datum": 0.1}, "y2": {"datum": 9.4}}},
    {"data": {"values": [{}]}, "mark": {"type": "text", "fontSize": 33, "fontWeight": "bold", "color": "black", "baseline": "middle"},
     "encoding": {"x": {"datum": 4.24}, "y": {"datum": 34.8}, "text": {"value": "Histogram of Pig actived TFs"}}}
   ]}
 ], "bounds": "flush", "spacing": 531,
 "resolve": {"scale": {"color": "independent", "fill": "independent", "stroke": "independent"}, "legend": {"color": "independent", "fill": "independent", "stroke": "independent"}}},
 {"hconcat": [
  {"width": 953, "height": 276.7,
   "title": {"text": "C", "dx": -34, "offset": 5},
   "data": {"name": "tfs"},
   "layer": [
    {"mark": {"type": "bar", "strokeWidth": 2.5},
     "encoding": {
      "x": {"field": "tf", "type": "nominal", "sort": null, "scale": {"paddingInner": 0.35, "paddingOuter": 0.25, "align": 0.746},
            "axis": {"orient": "bottom", "labelAngle": -45, "labelAlign": "right", "labelBaseline": "middle", "labelFontSize": 22, "labelPadding": 6, "domainWidth": 3, "tickSize": 10, "tickWidth": 2.5, "title": "Actived TFs", "titleFontSize": 21, "titleFontWeight": "bold", "titlePadding": 16}},
      "y": {"field": "v", "type": "quantitative", "scale": {"domain": [0, 8], "range": [276.7, 20], "nice": false},
            "axis": {"values": [0, 2, 4, 6, 8], "domainWidth": 3, "tickSize": 8, "tickWidth": 2.5, "labelFontSize": 19, "labelFontWeight": "bold", "labelPadding": 4, "title": "log2 Fold Change", "titleFontSize": 20, "titleFontWeight": "bold", "titlePadding": 7}},
      "fill": {"field": "tf", "type": "nominal", "legend": null, "scale": {"domain": ["MYC","KLF4","EED","RBMX","CRABP2","ATF3","TGIF1","MYCN","SRSF1","URI1","GSC","FUS","GATA6","ILF2","TFAP2C","EWSR1","PA2G4","CTCF","SNIP1","FOS"], "range": ["#A4533B","#9E3A5F","#5C7A2B","#2C7F69","#45699E","#FF9443","#DB7A97","#B4B86D","#6CC9B3","#86A7D8","#A4533B","#9E3A5F","#5C7A2B","#2C7F69","#45699E","#FF9443","#DB7A97","#B4B86D","#6CC9B3","#86A7D8"]}},
      "stroke": {"field": "tf", "type": "nominal", "legend": null, "scale": {"domain": ["MYC","KLF4","EED","RBMX","CRABP2","ATF3","TGIF1","MYCN","SRSF1","URI1","GSC","FUS","GATA6","ILF2","TFAP2C","EWSR1","PA2G4","CTCF","SNIP1","FOS"], "range": ["#6E1510","#5C1030","#263D0B","#0E4232","#1B3A6B","#C8632C","#A8406A","#5E7420","#2B8B6E","#3565B5","#6E1510","#5C1030","#263D0B","#0E4232","#1B3A6B","#C8632C","#A8406A","#5E7420","#2B8B6E","#3565B5"]}}
     }},
    {"mark": {"type": "rule", "opacity": 0},
     "encoding": {"x": {"field": "tf", "type": "nominal", "sort": null,
       "axis": {"orient": "top", "labels": false, "ticks": false, "domain": false, "title": "Pig Top20 TFs", "titleFontSize": 25, "titleFontWeight": "bold", "titlePadding": 10, "titleX": 488}}}}
   ],
   "resolve": {"axis": {"x": "independent"}}},
  {"width": 415, "height": 332.5,
   "title": {"text": "D", "dx": -142, "offset": -11},
   "layer": [
    {"data": {"name": "myc"}, "mark": {"type": "bar"},
     "encoding": {
      "x": {"field": "stage", "type": "nominal", "scale": {"paddingInner": 0, "paddingOuter": 0},
            "axis": {"orient": "bottom", "labelAngle": -45, "labelAlign": "right", "labelBaseline": "middle", "labelFont": "DejaVu Sans", "labelFontSize": 19, "labelFontWeight": "bold", "labelPadding": 8, "domainWidth": 3.5, "tickSize": 10, "tickWidth": 3, "title": null}},
      "xOffset": {"field": "grp", "type": "nominal", "scale": {"paddingInner": 0.25, "paddingOuter": 0.31}},
      "y": {"field": "m", "type": "quantitative", "scale": {"domain": [0, 20], "nice": false},
            "axis": {"values": [0, 5, 10, 15, 20], "domainWidth": 3.5, "tickSize": 10, "tickWidth": 3, "labelFont": "DejaVu Sans", "labelFontSize": 17, "labelFontWeight": "bold", "labelPadding": 7, "title": "Relative mRNA abundance", "titleFont": "DejaVu Sans", "titleFontSize": 23, "titleFontWeight": "bold", "titlePadding": 9, "titleY": 174}},
      "color": {"field": "grp", "type": "nominal", "scale": {"domain": ["IVV", "SCNT"], "range": ["#0000FF", "#FF0000"]},
        "legend": {"orient": "none", "legendX": 405, "legendY": 35, "title": null, "symbolType": "M-1.5,-0.8H1.5V0.8H-1.5Z", "symbolSize": 747, "symbolStrokeWidth": 0, "labelFont": "DejaVu Sans", "labelFontSize": 20, "labelFontWeight": "bold", "labelOffset": 21, "rowPadding": 8.7}}
     }},
    {"data": {"name": "myc"}, "mark": {"type": "rule", "strokeWidth": 3},
     "encoding": {"x": {"field": "stage", "type": "nominal", "axis": null}, "xOffset": {"field": "grp", "type": "nominal"}, "y": {"field": "m", "type": "quantitative"}, "y2": {"field": "hi"}, "color": {"field": "grp", "type": "nominal"}}},
    {"data": {"name": "myc"}, "mark": {"type": "tick", "size": 24, "thickness": 3, "orient": "horizontal"},
     "encoding": {"x": {"field": "stage", "type": "nominal", "axis": null}, "xOffset": {"field": "grp", "type": "nominal"}, "y": {"field": "hi", "type": "quantitative"}, "color": {"field": "grp", "type": "nominal"}}},
    {"data": {"name": "br"}, "mark": {"type": "line", "color": "black", "strokeWidth": 4.5, "strokeJoin": "miter", "strokeCap": "butt"},
     "encoding": {"x": {"field": "stage", "type": "nominal", "axis": null}, "xOffset": {"field": "grp", "type": "nominal"}, "y": {"field": "y", "type": "quantitative"}, "order": {"field": "o", "type": "quantitative"}, "detail": {"field": "stage", "type": "nominal"}}},
    {"data": {"name": "st"}, "mark": {"type": "text", "fontSize": 26, "font": "DejaVu Sans", "color": "black", "baseline": "middle", "dy": 6},
     "encoding": {"x": {"field": "stage", "type": "nominal", "axis": null}, "y": {"field": "y", "type": "quantitative"}, "text": {"field": "s"}}},
    {"data": {"name": "myc"}, "mark": {"type": "rule", "opacity": 0},
     "encoding": {"x": {"field": "stage", "type": "nominal",
       "axis": {"orient": "top", "labels": false, "ticks": false, "domain": false, "title": "c-MYC", "titleFont": "DejaVu Sans", "titleFontStyle": "italic", "titleFontWeight": "normal", "titleFontSize": 24, "titleColor": "#333", "titlePadding": 29}}}}
   ],
   "resolve": {"axis": {"x": "independent"}}}
 ], "bounds": "flush", "spacing": 155,
 "resolve": {"scale": {"color": "independent", "fill": "independent", "stroke": "independent"}, "legend": {"color": "independent", "fill": "independent", "stroke": "independent"}}}
]
}
